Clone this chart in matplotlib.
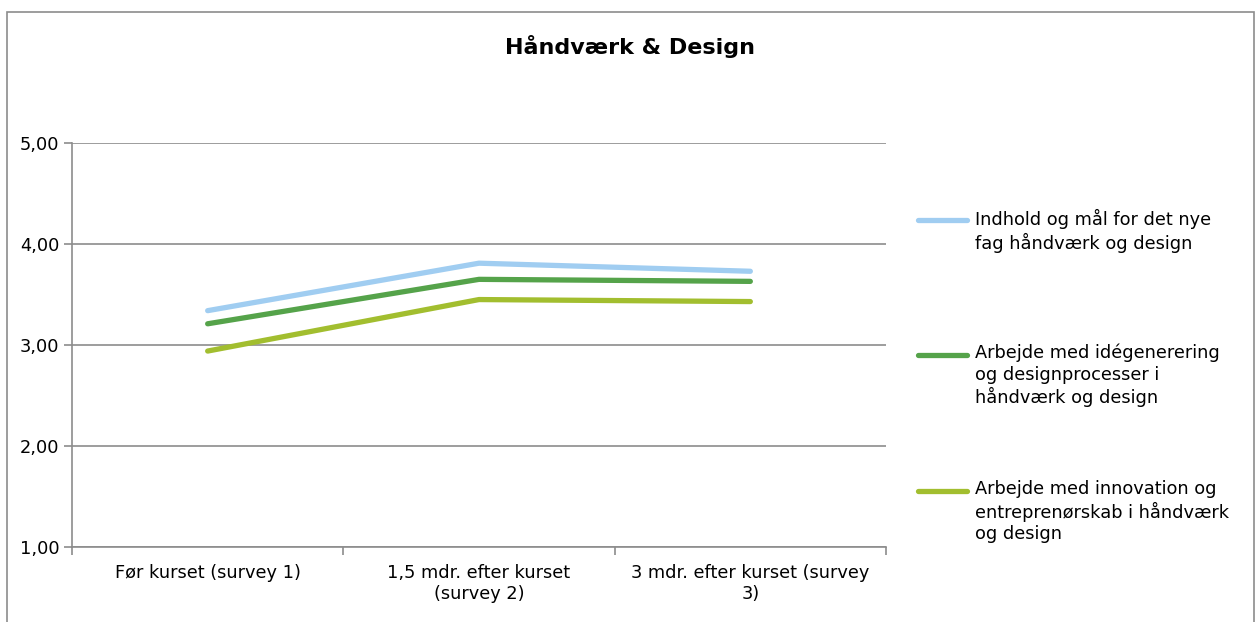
import matplotlib
matplotlib.use("Agg")
import matplotlib.pyplot as plt
from matplotlib.lines import Line2D
from matplotlib.patches import Rectangle

# Data
categories = ["Før kurset (survey 1)",
              "1,5 mdr. efter kurset\n(survey 2)",
              "3 mdr. efter kurset (survey\n3)"]
series_names = ["Indhold og mål for det nye\nfag håndværk og design",
                "Arbejde med idégenerering\nog designprocesser i\nhåndværk og design",
                "Arbejde med innovation og\nentreprenørskab i håndværk\nog design"]
indhold = [3.34, 3.81, 3.73]
idegenerering = [3.21, 3.65, 3.63]
innovation = [2.94, 3.45, 3.43]
yticks = [1.00, 2.00, 3.00, 4.00, 5.00]
ytick_labels = ["1,00", "2,00", "3,00", "4,00", "5,00"]
colors = ["#a0cdf1", "#55a34a", "#a2be2f"]

plt.rcParams['font.family'] = ['DejaVu Sans']
FS = 12.8

W, H = 1256, 622
fig = plt.figure(figsize=(W / 100, H / 100), dpi=100)
fig.patch.set_facecolor("white")

# Outer chart frame
fig.add_artist(Rectangle((7 / W, -0.05), (1254 - 7) / W, 1.05 - 12 / H,
                         transform=fig.transFigure, fill=False,
                         edgecolor="#8c8c8c", linewidth=1.2))

ax = fig.add_axes([72 / W, (H - 547) / H, (886 - 72) / W, (547 - 143) / H])

x = list(range(len(categories)))
for vals, c in zip([indhold, idegenerering, innovation], colors):
    ax.plot(x, vals, color=c, linewidth=3.8, solid_capstyle="round",
            solid_joinstyle="round", zorder=3)

ax.set_xlim(-0.5, len(categories) - 0.5)
ax.set_ylim(1, 5)
ax.set_yticks(yticks)
ax.set_yticklabels(ytick_labels, fontsize=FS)
ax.yaxis.grid(True, color="#8c8c8c", linewidth=1.2)
ax.set_axisbelow(True)

ax.set_xticks(x)
ax.set_xticklabels(categories, fontsize=FS, linespacing=1.25)
ax.set_xticks([i - 0.5 for i in range(len(categories) + 1)], minor=True)
ax.tick_params(axis="x", which="major", length=0, pad=12)
ax.tick_params(axis="x", which="minor", length=6, color="#8c8c8c", width=1.2)
ax.tick_params(axis="y", length=6, color="#8c8c8c", width=1.2, pad=3)

for s in ["top", "right"]:
    ax.spines[s].set_visible(False)
for s in ["left", "bottom"]:
    ax.spines[s].set_color("#8c8c8c")
    ax.spines[s].set_linewidth(1.2)

fig.text(630 / W, 1 - 47 / H, "Håndværk & Design", ha="center", va="center",
         fontsize=16, fontweight="bold")

# Legend
leg_y = [220, 355, 491]
for name, c, yy in zip(series_names, colors, leg_y):
    fig.add_artist(Line2D([918 / W, 967 / W], [1 - yy / H, 1 - yy / H],
                          transform=fig.transFigure, color=c, linewidth=3.8,
                          solid_capstyle="round"))
    fig.text(975 / W, 1 - (yy - 11) / H, name, ha="left", va="top",
             fontsize=FS, linespacing=1.22)

fig.savefig("out.png", dpi=100, facecolor="white")
